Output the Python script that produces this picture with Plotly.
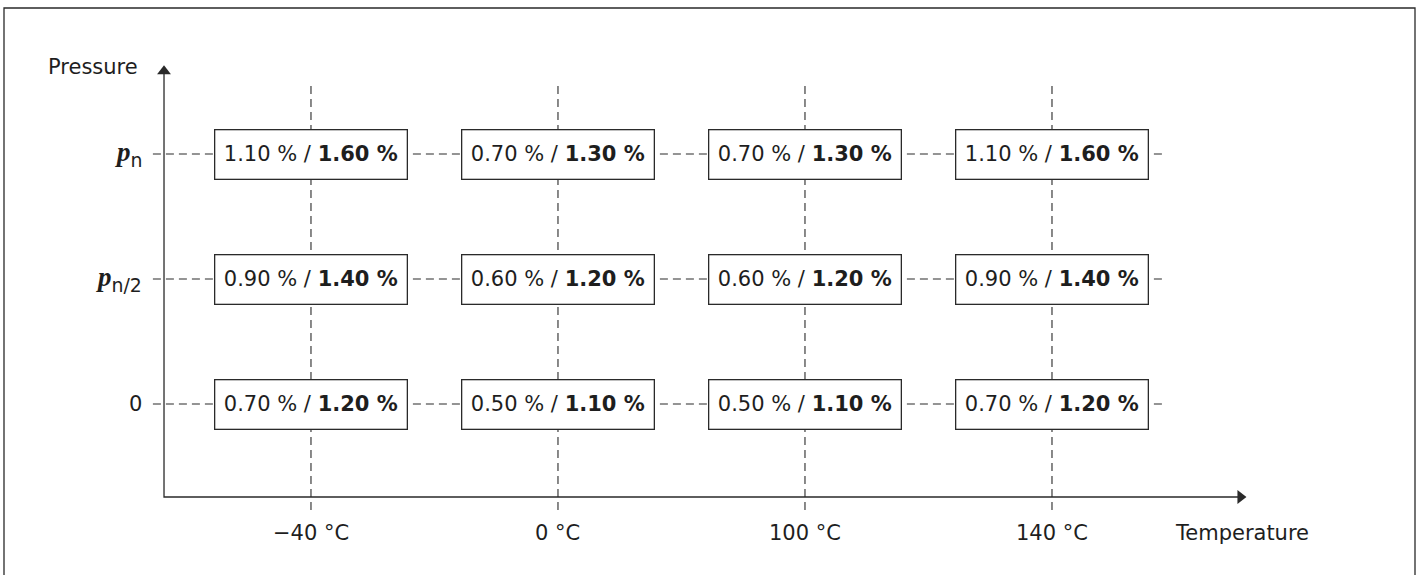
import plotly.graph_objects as go

# ---- data ----
temp_labels = ["−40 °C", "0 °C", "100 °C", "140 °C"]
pressure_labels = ["0",
                   "<span style='font-family:Liberation Serif'><b><i>p</i></b></span><sub>n/2</sub>",
                   "<span style='font-family:Liberation Serif'><b><i>p</i></b></span><sub>n</sub>"]
# rows: pressure 0, pn/2, pn ; columns: temperatures
low_vals = [[0.70, 0.50, 0.50, 0.70],
            [0.90, 0.60, 0.60, 0.90],
            [1.10, 0.70, 0.70, 1.10]]
high_vals = [[1.20, 1.10, 1.10, 1.20],
             [1.40, 1.20, 1.20, 1.40],
             [1.60, 1.30, 1.30, 1.60]]
x_title = "Temperature"
y_title = "Pressure"

# ---- layout constants (index units) ----
W, H = 1422, 575
XR = [-1.259, 4.498]
YR = [-1.368, 3.232]
AX_X = -0.595      # y-axis position
AX_Y = -0.744      # x-axis position
V_TOP, V_BOT = 2.568, -0.848
H_LEFT, H_RIGHT = -0.64, 3.449
X_ARROW_END = 3.789
Y_ARROW_END = 2.712

LINE = "#2a2a2a"
TXT = "#1e1e1e"
FONT = "DejaVu Sans"
FS = 21

fig = go.Figure()

# dashed grid lines
xs, ys = [], []
for i in range(len(temp_labels)):
    xs += [i, i, None]
    ys += [V_BOT, V_TOP, None]
for j in range(len(pressure_labels)):
    xs += [H_LEFT, H_RIGHT, None]
    ys += [j, j, None]
fig.add_trace(go.Scatter(x=xs, y=ys, mode="lines",
                         line=dict(color=LINE, width=1.1, dash="8px,5px"),
                         hoverinfo="skip"))

# axes lines
fig.add_trace(go.Scatter(x=[AX_X, AX_X, X_ARROW_END - 0.03], y=[Y_ARROW_END - 0.06, AX_Y, AX_Y],
                         mode="lines", line=dict(color=LINE, width=1.3), hoverinfo="skip"))
# arrowheads
fig.add_trace(go.Scatter(x=[X_ARROW_END - 0.026], y=[AX_Y], mode="markers",
                         marker=dict(symbol="triangle-right", size=12, color=LINE,
                                     line=dict(width=0)), hoverinfo="skip"))
fig.add_trace(go.Scatter(x=[AX_X], y=[Y_ARROW_END - 0.05], mode="markers",
                         marker=dict(symbol="triangle-up", size=12, color=LINE,
                                     line=dict(width=0)), hoverinfo="skip"))

ann = []
# value boxes
for j in range(len(pressure_labels)):
    for i in range(len(temp_labels)):
        ann.append(dict(x=i, y=j, xref="x", yref="y", showarrow=False,
                        text=f"{low_vals[j][i]:.2f} % / <b>{high_vals[j][i]:.2f} %</b>",
                        font=dict(family=FONT, size=FS, color=TXT),
                        bgcolor="white", bordercolor=LINE, borderwidth=1.3,
                        borderpad=1, width=189, height=46))

# tick labels
for i, t in enumerate(temp_labels):
    ann.append(dict(x=i, y=-1.03, xref="x", yref="y", showarrow=False, text=t,
                    font=dict(family=FONT, size=FS, color=TXT)))
for j, p in enumerate(pressure_labels):
    ann.append(dict(x=-0.675, y=j, xref="x", yref="y", showarrow=False, text=p,
                    xanchor="right", font=dict(family=FONT, size=27 if j else FS, color=TXT)))

ann.append(dict(x=3.49, y=-1.03, xref="x", yref="y", showarrow=False, text=x_title,
                xanchor="left", font=dict(family=FONT, size=FS, color=TXT)))
ann.append(dict(x=-0.694, y=2.70, xref="x", yref="y", showarrow=False, text=y_title,
                xanchor="right", font=dict(family=FONT, size=FS, color=TXT)))

fig.update_layout(
    width=W, height=H, margin=dict(l=0, r=0, t=0, b=0),
    paper_bgcolor="white", plot_bgcolor="white", showlegend=False,
    xaxis=dict(range=XR, visible=False, fixedrange=True),
    yaxis=dict(range=YR, visible=False, fixedrange=True),
    annotations=ann,
    shapes=[dict(type="rect", xref="paper", yref="paper",
                 x0=4 / W, x1=1415 / W, y0=-0.05, y1=1 - 8 / H,
                 line=dict(color=LINE, width=1.3))],
)

fig.write_html("out.html", config={"displayModeBar": False},
               post_script="document.body.style.margin='0px';document.body.style.overflow='hidden';")
